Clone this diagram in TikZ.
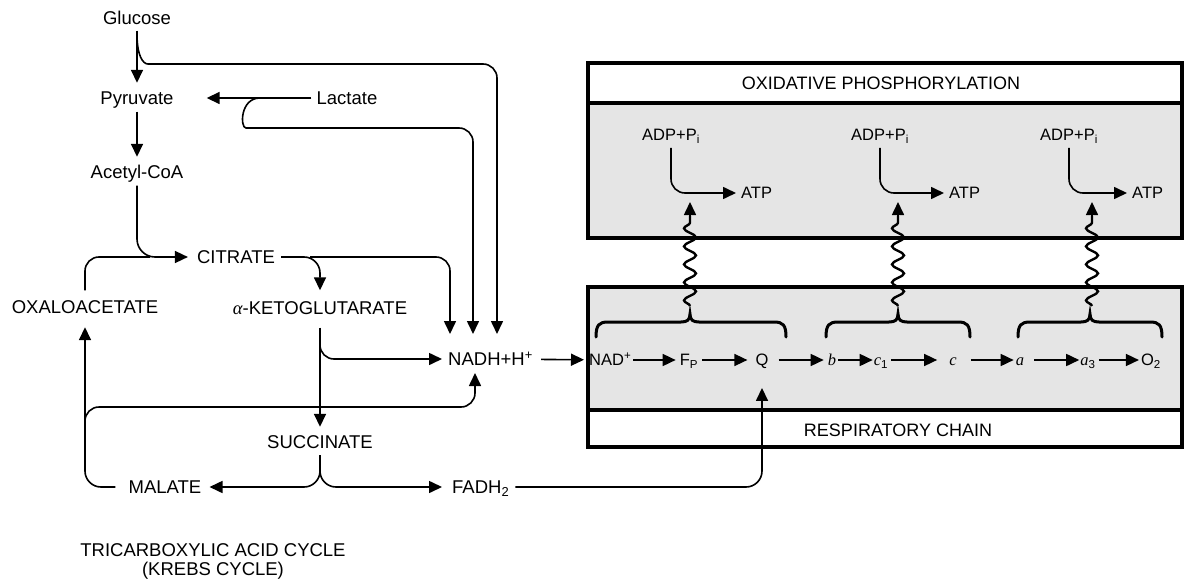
\documentclass[tikz,border=0pt]{standalone}
\usepackage{fontspec}
\setmainfont{Liberation Sans}
\newfontfamily\serifit{Liberation Serif}[UprightFont=*-Italic]
\usetikzlibrary{arrows.meta,decorations.pathmorphing}
\begin{document}
\begin{tikzpicture}[x=1pt,y=-1pt,
 lab/.style={font=\fontsize{18.5}{20}\selectfont, inner sep=0pt, text height=13pt, text depth=0pt},
 boxlab/.style={font=\fontsize{18}{20}\selectfont, inner sep=0pt, text height=13pt, text depth=0pt},
 chn/.style={font=\fontsize{16.5}{18}\selectfont, inner sep=0pt, text height=11.5pt, text depth=0pt},
 ln/.style={line width=1.6pt},
 arr/.style={line width=1.6pt, -{Triangle[length=13pt,width=12pt]}},
 boxln/.style={line width=3.4pt},
 stip/.style={fill=black!10},
 brc/.style={line width=3pt, line cap=round},
 wav/.style={line width=2.4pt, decorate, decoration={snake, amplitude=6pt, segment length=18pt}}
]
\useasboundingbox (0,0) rectangle (1188,583);

% ---------- boxes ----------
\fill[stip] (588,103) rectangle (1182,238);
\draw[boxln] (588,63) rectangle (1182,238);
\draw[boxln] (588,103) -- (1182,103);
\fill[stip] (588,287) rectangle (1182,410);
\draw[boxln] (588,287) rectangle (1182,447);
\draw[boxln] (588,410) -- (1182,410);

\node[boxlab] (oxp) at (881,83) {OXIDATIVE PHOSPHORYLATION};
\node[boxlab] (rch) at (898,430) {RESPIRATORY CHAIN};

% ---------- left labels ----------
\node[lab] (glu) at (137,18) {Glucose};
\node[lab] (pyr) at (137,98) {Pyruvate};
\node[lab] (lac) at (347,98) {Lactate};
\node[lab] (ace) at (137,172) {Acetyl-CoA};
\node[lab] (cit) at (236,257) {CITRATE};
\node[lab] (oxa) at (85,307) {OXALOACETATE};
\node[lab] (akg) at (320,308) {{\serifit α}-KETOGLUTARATE};
\node[lab, anchor=west] (nadh) at (448,359) {NADH+H\textsuperscript{+}};
\node[lab] (suc) at (320,442) {SUCCINATE};
\node[lab] (mal) at (165,487) {MALATE};
\node[lab, anchor=west] (fad) at (452,487) {FADH\textsubscript{2}};
\node[lab] (tca1) at (213,550) {TRICARBOXYLIC ACID CYCLE};
\node[lab] (tca2) at (213,569) {(KREBS CYCLE)};

% ---------- chain ----------
\node[chn, anchor=west] (nadp) at (589,360) {NAD\textsuperscript{+}};
\node[chn] (fp) at (689,360) {F\textsubscript{P}};
\node[chn] (q) at (762,360) {Q};
\node[chn] (b) at (832,360) {{\serifit b}};
\node[chn] (c1) at (881,360) {{\serifit c}\textsubscript{1}};
\node[chn] (c) at (953,360) {{\serifit c}};
\node[chn] (a) at (1020,360) {{\serifit a}};
\node[chn] (a3) at (1088,360) {{\serifit a}\textsubscript{3}};
\node[chn] (o2) at (1151,360) {O\textsubscript{2}};

\draw[arr, shorten <=2pt, shorten >=4pt] (nadp) -- (fp);
\draw[arr, shorten <=4pt, shorten >=8pt] (fp) -- (q);
\draw[arr, shorten <=10pt, shorten >=4pt] (q) -- (b);
\draw[arr, shorten <=2pt, shorten >=1pt] (b) -- (c1);
\draw[arr, shorten <=3pt, shorten >=12pt] (c1) -- (c);
\draw[arr, shorten <=14pt, shorten >=2pt] (c) -- (a);
\draw[arr, shorten <=10pt, shorten >=1pt] (a) -- (a3);
\draw[arr, shorten <=3pt, shorten >=2pt] (a3) -- (o2);

% ---------- ADP -> ATP ----------
\node[chn] (adp1) at (671,135) {ADP+P\textsubscript{i}};
\node[chn] (adp2) at (880,135) {ADP+P\textsubscript{i}};
\node[chn] (adp3) at (1069,135) {ADP+P\textsubscript{i}};
\node[chn, anchor=west] (atp1) at (741,193) {ATP};
\node[chn, anchor=west] (atp2) at (949,193) {ATP};
\node[chn, anchor=west] (atp3) at (1132,193) {ATP};
\foreach \i in {1,2,3}{
  \draw[arr, rounded corners=14pt, shorten <=7pt, shorten >=5pt] (adp\i.south) |- (atp\i.west);
}

% ---------- braces ----------
\draw[brc] (596,337) .. controls (596,325) and (599,322) .. (608,322) -- (681,322)
  .. controls (687,322) and (690,320) .. (690,314) .. controls (690,320) and (693,322) .. (699,322)
  -- (774,322) .. controls (783,322) and (786,325) .. (786,337);
\draw[brc] (826,337) .. controls (826,325) and (829,322) .. (838,322) -- (889,322)
  .. controls (895,322) and (898,320) .. (898,314) .. controls (898,320) and (901,322) .. (907,322)
  -- (958,322) .. controls (967,322) and (970,325) .. (970,337);
\draw[brc] (1018,337) .. controls (1018,325) and (1021,322) .. (1030,322) -- (1081,322)
  .. controls (1087,322) and (1090,320) .. (1090,314) .. controls (1090,320) and (1093,322) .. (1099,322)
  -- (1150,322) .. controls (1159,322) and (1162,325) .. (1162,337);

% ---------- waves ----------
\coordinate (wb1) at (690,306); \coordinate (wt1) at (690,216); \coordinate (wa1) at (690,202);
\coordinate (wb2) at (898,306); \coordinate (wt2) at (898,216); \coordinate (wa2) at (898,202);
\coordinate (wb3) at (1092,306); \coordinate (wt3) at (1092,216); \coordinate (wa3) at (1092,202);
\foreach \i in {1,2,3}{
  \draw[wav] (wb\i) -- (wt\i);
  \draw[arr] (wt\i) -- (wa\i);
}

% ---------- left connectors ----------
\coordinate (gj) at (137,34);
\coordinate (lj) at (260,98);
\coordinate (cj) at (310,257);
\coordinate (aj) at (320,343);
\coordinate (mj) at (85,432);
\coordinate (sj) at (320,466);
\coordinate (n1) at (450,334);
\coordinate (n2) at (473,334);
\coordinate (n3) at (497,334);
\coordinate (n4) at (475,373);
\coordinate (oxj) at (150,257);

\draw[arr, shorten <=6pt, shorten >=8.5pt] (glu) -- (pyr);
\draw[arr, rounded corners=14pt] (gj) .. controls (137,56) and (143,64) .. (162,64) -- (497,64) -- (n3);
\draw[arr, shorten <=5pt, shorten >=33pt] (lac) -- (pyr);
\draw[arr, rounded corners=14pt] (lj) .. controls (240,98) and (240,128) .. (260,128) -- (473,128) -- (n2);
\draw[arr, shorten <=7pt, shorten >=8.5pt] (pyr) -- (ace);
\draw[arr, rounded corners=18pt, shorten <=7pt, shorten >=9pt] (ace.south) |- (cit.west);
\draw[ln, rounded corners=14pt, shorten <=10pt] (oxa.north) |- (oxj);
\draw[arr, rounded corners=16pt, shorten <=6pt, shorten >=11pt] (cit.east) -| (akg.north);
\draw[arr, rounded corners=14pt] (cj) -- (450,257) -- (n1);
\draw[arr, shorten <=13pt, shorten >=8.5pt] (akg) -- (suc);
\draw[arr, rounded corners=14pt, shorten >=6pt] (aj) |- (nadh.west);
\draw[arr, rounded corners=16pt, shorten <=13pt, shorten >=13.5pt] (mal.west) -| (oxa.south);
\draw[arr, rounded corners=14pt] (mj) |- (475,407) -- (n4);
\draw[ln, shorten <=6.5pt] (suc) -- (sj);
\draw[arr, rounded corners=16pt, shorten >=8pt] (sj) |- (mal.east);
\draw[arr, rounded corners=16pt, shorten >=10pt] (sj) |- (fad.west);
\draw[arr, shorten <=8pt, shorten >=5pt] (nadh) -- (nadp);
\draw[arr, rounded corners=16pt, shorten <=6pt, shorten >=22pt] (fad.east) -| (q.south);
\end{tikzpicture}
\end{document}
